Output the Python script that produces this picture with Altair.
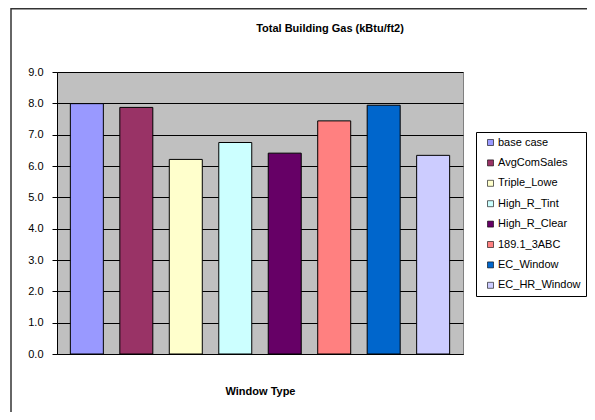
import altair as alt
import pandas as pd

categories = ["base case", "AvgComSales", "Triple_Lowe", "High_R_Tint",
              "High_R_Clear", "189.1_3ABC", "EC_Window", "EC_HR_Window"]
values = [7.99, 7.87, 6.21, 6.75, 6.41, 7.44, 7.94, 6.34]
colors = ["#9999FF", "#993366", "#FFFFCC", "#CCFFFF",
          "#660066", "#FF8080", "#0066CC", "#CCCCFF"]
y_ticks = [0, 1, 2, 3, 4, 5, 6, 7, 8, 9]
chart_title = "Total Building Gas (kBtu/ft2)"

df = pd.DataFrame({"Window": categories, "Gas": values})
one = pd.DataFrame({"k": [0]})

FONT = "Liberation Sans"

bars = alt.Chart(df).mark_bar(stroke="black", strokeWidth=1).encode(
    x=alt.X("Window:N", sort=categories,
            scale=alt.Scale(paddingInner=0.333, paddingOuter=0.27),
            axis=alt.Axis(title="Window Type", labels=False, ticks=False,
                          domainColor="black", titlePadding=31,
                          titleFont=FONT, titleFontSize=11, titleFontWeight="bold",
                          titleColor="black")),
    y=alt.Y("Gas:Q", scale=alt.Scale(domain=[0, 9], nice=False),
            axis=alt.Axis(title=None, values=y_ticks, format=".1f",
                          tickSize=5, tickColor="black", labelPadding=9,
                          labelFont=FONT, labelFontSize=11, labelColor="black",
                          domainColor="black", gridColor="black", gridOpacity=1)),
    color=alt.Color("Window:N", sort=categories,
                    scale=alt.Scale(domain=categories, range=colors),
                    legend=alt.Legend(title=None, orient="none", legendX=419, legendY=60,
                                      strokeColor="black", fillColor="white",
                                      padding=5, rowPadding=8.4,
                                      symbolType="square", symbolSize=36,
                                      symbolStrokeColor="black", symbolStrokeWidth=0.6,
                                      symbolOffset=4, labelOffset=2,
                                      labelFont=FONT, labelFontSize=11,
                                      labelColor="black")),
)

frame_top = alt.Chart(one).mark_rule(color="#333333", strokeWidth=1.5).encode(
    x=alt.value(-46), x2=alt.value(530), y=alt.value(-63.3))
frame_left = alt.Chart(one).mark_rule(color="#333333", strokeWidth=1.5).encode(
    x=alt.value(-46), y=alt.value(-64), y2=alt.value(340))

title_text = alt.Chart(one).mark_text(
    font=FONT, fontSize=11, fontWeight="bold", color="black",
    align="center", baseline="alphabetic").encode(
    x=alt.value(273), y=alt.value(-40), text=alt.value(chart_title))

chart = alt.layer(bars, frame_top, frame_left, title_text).properties(
    width=406, height=282,
    autosize=alt.AutoSizeParams(type="none"),
    padding={"left": 49, "top": 64, "right": 124, "bottom": 58},
).configure_view(fill="#C0C0C0", stroke="#808080")

chart.save("out.html", embed_options={"renderer": "svg", "actions": False})
